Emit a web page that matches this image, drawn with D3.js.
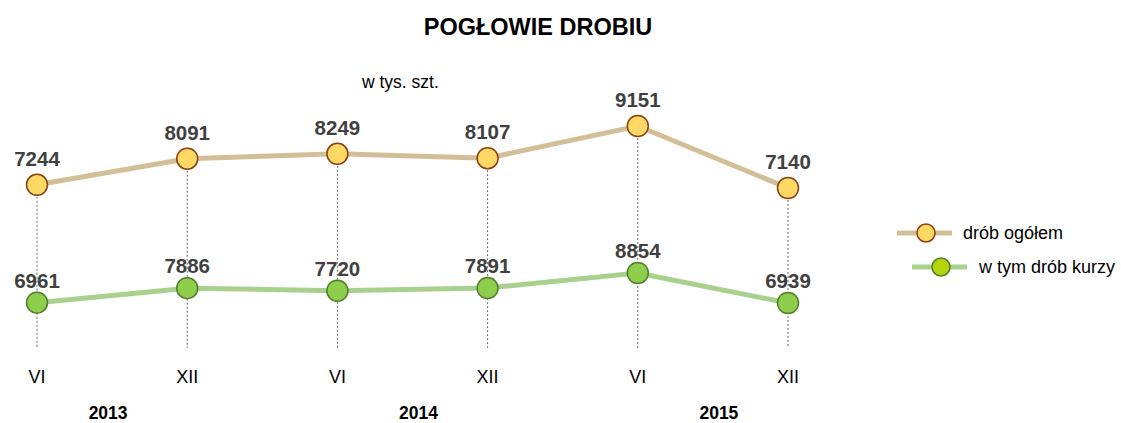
<!DOCTYPE html>
<html>
<head>
<meta charset="utf-8">
<script src="https://cdn.jsdelivr.net/npm/d3@7"></script>
<style>
  body { margin: 0; background: #fff; }
  text { font-family: 'Liberation Sans', Arial, sans-serif; }
</style>
</head>
<body>
<svg id="chart"></svg>
<script>
const periods = ['VI', 'XII', 'VI', 'XII', 'VI', 'XII'];
const years = ['2013', '2014', '2015'];
const drobOgolem = [7244, 8091, 8249, 8107, 9151, 7140];
const drobKurzy = [6961, 7886, 7720, 7891, 8854, 6939];
const seriesNames = ['drób ogółem', 'w tym drób kurzy'];

const width = 1121;
const height = 423;

const svg = d3.select('#chart')
    .attr('width', width)
    .attr('height', height);

const x = d3.scalePoint()
    .domain(d3.range(periods.length))
    .range([37, 788]);

// each series drawn on its own band of the plot
const yTotal = d3.scaleLinear()
    .domain([7140, 9151])
    .range([188, 126]);
const yChick = d3.scaleLinear()
    .domain([6939, 8854])
    .range([303, 273]);

svg.append('text')
    .attr('x', 538)
    .attr('y', 35)
    .attr('text-anchor', 'middle')
    .attr('font-size', 23.5)
    .attr('font-weight', 'bold')
    .attr('fill', '#000')
    .text('POGŁOWIE DROBIU');

svg.append('text')
    .attr('x', 362)
    .attr('y', 88)
    .attr('font-size', 17.5)
    .attr('fill', '#000')
    .text('w tys. szt.');

// dashed drop lines
svg.append('g').selectAll('line')
    .data(drobOgolem)
  .enter()
  .append('line')
    .attr('x1', (d, i) => x(i))
    .attr('x2', (d, i) => x(i))
    .attr('y1', d => yTotal(d))
    .attr('y2', 348)
    .attr('stroke', '#666')
    .attr('stroke-width', 1)
    .attr('stroke-dasharray', '2,2');

// x labels
svg.append('g').selectAll('text')
    .data(periods)
  .enter()
  .append('text')
    .attr('x', (d, i) => x(i))
    .attr('y', 383)
    .attr('text-anchor', 'middle')
    .attr('font-size', 18)
    .attr('fill', '#000')
    .text(d => d);

svg.append('g').selectAll('text')
    .data(years)
  .enter()
  .append('text')
    .attr('x', (d, i) => (x(i * 2) + x(i * 2 + 1)) / 2 + (i === 0 ? -4 : 6))
    .attr('y', 419)
    .attr('text-anchor', 'middle')
    .attr('font-size', 17.5)
    .attr('font-weight', 'bold')
    .attr('fill', '#000')
    .text(d => d);

const series = [
  {values: drobOgolem, y: yTotal, line: '#d3bf97', fill: '#ffd966', stroke: '#8b3e0f', dy: -19},
  {values: drobKurzy, y: yChick, line: '#a9d18e', fill: '#8fce4c', stroke: '#4e7f2c', dy: -15},
];

series.forEach(function(s) {
  const line = d3.line()
      .x((d, i) => x(i))
      .y(d => s.y(d));

  svg.append('path')
      .datum(s.values)
      .attr('d', line)
      .attr('fill', 'none')
      .attr('stroke', s.line)
      .attr('stroke-width', 5);

  svg.append('g').selectAll('circle')
      .data(s.values)
    .enter()
    .append('circle')
      .attr('cx', (d, i) => x(i))
      .attr('cy', d => s.y(d))
      .attr('r', 10.5)
      .attr('fill', s.fill)
      .attr('stroke', s.stroke)
      .attr('stroke-width', 1.5);

  svg.append('g').selectAll('text')
      .data(s.values)
    .enter()
    .append('text')
      .attr('x', (d, i) => x(i))
      .attr('y', d => s.y(d) + s.dy)
      .attr('text-anchor', 'middle')
      .attr('font-size', 20.5)
      .attr('font-weight', 'bold')
      .attr('fill', '#404040')
      .text(d => d);
});

// legend
const legend = [
  {name: seriesNames[0], x: 897, y: 233, tx: 963, line: '#d3bf97', fill: '#ffd966', stroke: '#8b3e0f'},
  {name: seriesNames[1], x: 912, y: 267, tx: 979, line: '#a9d18e', fill: '#b5d40c', stroke: '#4e7f2c'},
];

const lg = svg.append('g').selectAll('g')
    .data(legend)
  .enter()
  .append('g');

lg.append('line')
    .attr('x1', d => d.x)
    .attr('x2', d => d.x + 55)
    .attr('y1', d => d.y)
    .attr('y2', d => d.y)
    .attr('stroke', d => d.line)
    .attr('stroke-width', 5);

lg.append('circle')
    .attr('cx', d => d.x + 29)
    .attr('cy', d => d.y)
    .attr('r', 9)
    .attr('fill', d => d.fill)
    .attr('stroke', d => d.stroke)
    .attr('stroke-width', 1.5);

lg.append('text')
    .attr('x', d => d.tx)
    .attr('y', d => d.y + 6)
    .attr('font-size', 18)
    .attr('fill', '#000')
    .text(d => d.name);
</script>
</body>
</html>
